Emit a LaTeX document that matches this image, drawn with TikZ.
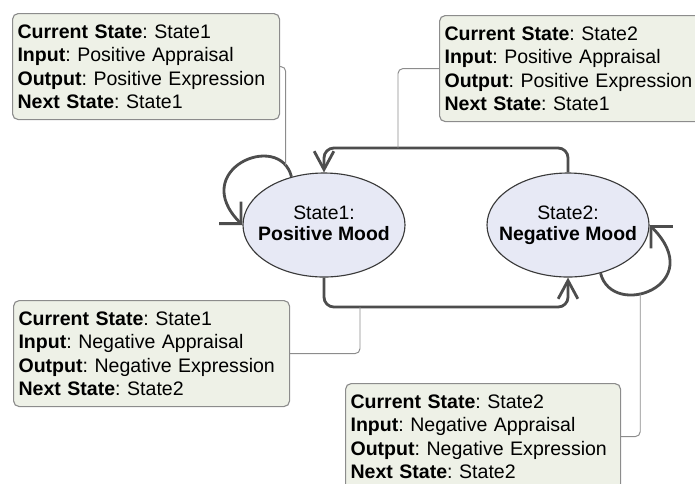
\documentclass[tikz,border=0pt]{standalone}
\usepackage{fontspec}
\setmainfont{Liberation Sans}
\usetikzlibrary{shapes.geometric,arrows.meta}

% un pixel del disegno
\def\px{0.025cm}

\begin{document}
\begin{tikzpicture}[x=\px,y=\px,
  stato/.style={ellipse, draw=lineDark, fill=statoFill, line width=0.8pt,
    minimum width=162*\px, minimum height=104*\px, inner xsep=-16*\px, inner ysep=0pt,
    align=center, font=\fontsize{13.8}{15}\selectfont,
    execute at begin node=\rule{0pt}{16pt}, execute at end node=\vphantom{g}},
  nota/.style={draw=noteGray, fill=noteFill, line width=0.8pt, rounded corners=4pt,
    anchor=north west, minimum height=106*\px, inner xsep=5*\px, inner ysep=0pt,
    align=left, font=\fontsize{13.9}{16.7}\selectfont\frenchspacing},
  trans/.style={draw=lineTrans, line width=2pt, rounded corners=7pt,
    -{Straight Barb[length=13pt,width=14pt]}},
  anello/.style={draw=lineTrans, line width=2pt,
    -{Straight Barb[length=11pt,width=22pt]}},
  collega/.style={draw=noteGray, line width=0.7pt, rounded corners=3.5pt}]

% Colori
\definecolor{statoFill}{HTML}{E7E9F5}
\definecolor{noteFill}{HTML}{EEF1E7}
\definecolor{noteGray}{HTML}{8C8C8C}
\definecolor{lineDark}{HTML}{3A3A3A}
\definecolor{lineTrans}{HTML}{4D4D4D}

\useasboundingbox (0,0) rectangle (695,-483);
\clip (0,0) rectangle (695,-483);

% Stati
\node[stato] (s1) at (324,-225) {State1:\\\textbf{Positive Mood}};
\node[stato] (s2) at (568,-225) {State2:\\\textbf{Negative Mood}};

% Note
\node[nota, text width=257*\px] (b1) at (12,-13)
  {\textbf{Current State}: State1\\\textbf{Input}: Positive Appraisal\\
   \textbf{Output}: Positive Expression\\\textbf{Next State}: State1};
\node[nota, text width=257*\px] (b2) at (439,-15)
  {\textbf{Current State}: State2\\\textbf{Input}: Positive Appraisal\\
   \textbf{Output}: Positive Expression\\\textbf{Next State}: State1};
\node[nota, text width=266*\px] (b3) at (13,-300)
  {\textbf{Current State}: State1\\\textbf{Input}: Negative Appraisal\\
   \textbf{Output}: Negative Expression\\\textbf{Next State}: State2};
\node[nota, text width=265*\px] (b4) at (345,-383)
  {\textbf{Current State}: State2\\\textbf{Input}: Negative Appraisal\\
   \textbf{Output}: Negative Expression\\\textbf{Next State}: State2};

% Transizioni tra gli stati
\coordinate (sopra) at (398,-148);
\coordinate (sotto) at (360,-307);
\draw[trans] (s2.north) |- (sopra) -| (s1.north);
\draw[trans] (s1.south) |- (sotto) -| (s2.south);

% Anelli
\draw[anello] (s1.124) .. controls +(-12,47) and +(-55,55) .. (s1.west)
  coordinate[pos=0.1] (a1);
\draw[anello] (s2.-56) .. controls +(12,-47) and +(60,-60) .. (s2.east)
  coordinate[pos=0.4] (a2);

% Collegamenti delle note
\draw[collega] (b1.east) -| (a1);
\draw[collega] (b2.west) -| (sopra);
\draw[collega] (b3.east) -| (sotto);
\draw[collega] (b4.east) -| (a2);

\end{tikzpicture}
\end{document}
